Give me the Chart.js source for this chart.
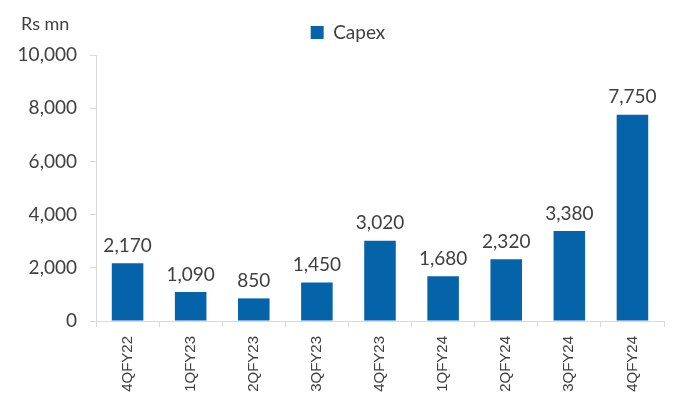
<!DOCTYPE html>
<html lang="en">
<head>
    <meta charset="UTF-8">
    <title>Capex</title>
    <script src="https://cdn.jsdelivr.net/npm/chart.js@4.4.0/dist/chart.umd.min.js"></script>
    <style>
        html, body { margin: 0; padding: 0; background: #fff; }
        #wrap { width: 698px; height: 396px; }
    </style>
</head>
<body>
    <div id="wrap"><canvas id="capexChart"></canvas></div>
    <script>
        // data
        const quarters = ['4QFY22', '1QFY23', '2QFY23', '3QFY23', '4QFY23', '1QFY24', '2QFY24', '3QFY24', '4QFY24'];
        const capex = [2170, 1090, 850, 1450, 3020, 1680, 2320, 3380, 7750];
        const yTicks = [0, 2000, 4000, 6000, 8000, 10000];

        const barColor = '#0563AA';
        const axisColor = '#d9d9d9';
        const textColor = '#404040';

        // value labels above bars + unit text
        const extras = {
            id: 'extras',
            afterLayout(chart) {
                // nudge legend to sit like the original
                const lg = chart.legend;
                lg.left += 14; lg.right += 14;
                lg.top -= 3; lg.bottom -= 3;
            },
            afterDatasetsDraw(chart) {
                const ctx = chart.ctx;
                ctx.save();
                ctx.font = '19px Lato';
                ctx.fillStyle = textColor;
                ctx.textAlign = 'center';
                ctx.textBaseline = 'bottom';
                chart.getDatasetMeta(0).data.forEach((bar, i) => {
                    ctx.fillText(capex[i].toLocaleString('en-US'), bar.x, bar.y - 8);
                });
                ctx.font = '18px Lato';
                ctx.textAlign = 'left';
                ctx.textBaseline = 'middle';
                ctx.fillText('Rs mn', 21, 24);
                ctx.restore();
            }
        };

        new Chart(document.getElementById('capexChart'), {
            type: 'bar',
            data: {
                labels: quarters,
                datasets: [{
                    label: 'Capex',
                    data: capex,
                    backgroundColor: barColor,
                    barPercentage: 0.5,
                    categoryPercentage: 1.0
                }]
            },
            options: {
                responsive: true,
                maintainAspectRatio: false,
                animation: false,
                layout: { padding: { top: 11, left: 4, right: 34, bottom: 0 } },
                plugins: {
                    legend: {
                        position: 'top',
                        labels: {
                            boxWidth: 13,
                            boxHeight: 13,
                            padding: 15,
                            color: textColor,
                            font: { family: 'Lato', size: 19 }
                        }
                    },
                    tooltip: { enabled: false }
                },
                scales: {
                    x: {
                        offset: true,
                        grid: {
                            offset: true,
                            drawOnChartArea: false,
                            drawTicks: true,
                            tickLength: 6,
                            color: axisColor
                        },
                        border: { color: axisColor },
                        ticks: {
                            color: textColor,
                            font: { family: "'Liberation Sans', Arial, sans-serif", size: 15 },
                            minRotation: 90,
                            maxRotation: 90,
                            padding: 9
                        },
                        afterFit(scale) { scale.height = 75; }
                    },
                    y: {
                        min: 0,
                        max: 10000,
                        afterBuildTicks(scale) {
                            scale.ticks = yTicks.map(v => ({ value: v }));
                        },
                        grid: {
                            drawOnChartArea: false,
                            drawTicks: true,
                            tickLength: 6,
                            color: axisColor
                        },
                        border: { color: axisColor },
                        ticks: {
                            color: textColor,
                            font: { family: 'Lato', size: 19 },
                            padding: 13,
                            callback: v => v.toLocaleString('en-US')
                        },
                        afterFit(scale) { scale.width = 92; }
                    }
                }
            },
            plugins: [extras]
        });
    </script>
</body>
</html>
